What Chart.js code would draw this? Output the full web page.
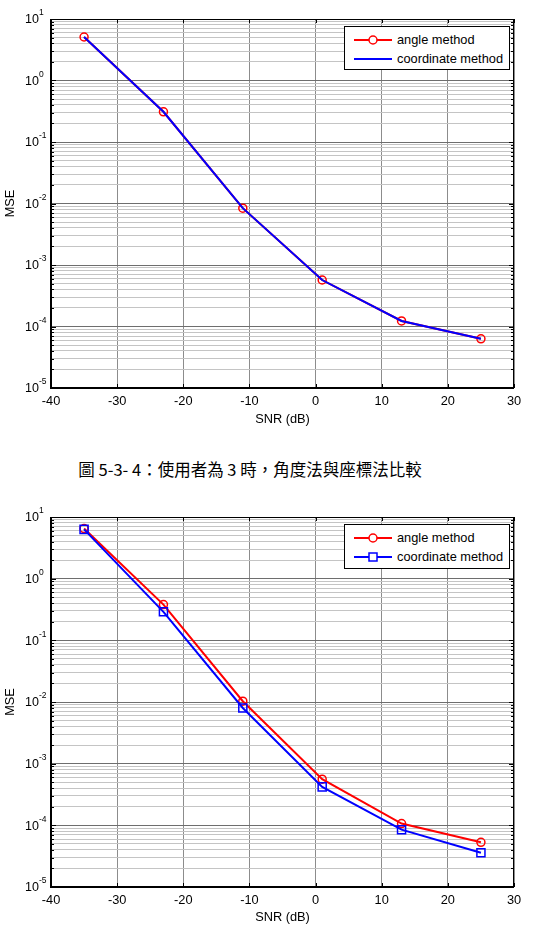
<!DOCTYPE html>
<html>
<head>
<meta charset="utf-8">
<script src="https://cdn.jsdelivr.net/npm/chart.js@4.4.0/dist/chart.umd.min.js"></script>
<style>
body { margin:0; width:543px; height:926px; overflow:hidden; background:#fff; position:relative; font-family:"Liberation Sans", Arial, sans-serif; }
.wrap { position:absolute; left:0; width:543px; height:430px; }
.legend { position:absolute; left:344px; width:164px; background:#fff; border:1px solid #000; font-size:12.8px; color:#000; }
.legend .row { position:absolute; left:0; height:16px; width:164px; }
.legend .row svg { position:absolute; left:0; top:0; }
.legend .row span { position:absolute; left:52px; top:0; line-height:16px; white-space:nowrap; }
.caption { position:absolute; left:0; width:500px; top:458px; text-align:center; font-family:"Noto Sans CJK TC", sans-serif; font-size:16.5px; line-height:22px; color:#000; }
</style>
</head>
<body>
<div class="wrap" style="top:0"><canvas id="chart1"></canvas></div>
<div class="legend" id="legend1" style="top:26px;height:42px"></div>
<div class="caption">圖 5-3- 4：使用者為 3 時，角度法與座標法比較</div>
<div class="wrap" style="top:498px"><canvas id="chart2"></canvas></div>
<div class="legend" id="legend2" style="top:524px;height:43px"></div>
<script>
// SNR points (dB)
const snr = [-35, -23, -11, 1, 13, 25];

// first figure: both methods give the same MSE
const angleMse1 = [5.1, 0.31, 0.0084, 0.00057, 0.000123, 0.000063];
const coordMse1 = [5.1, 0.31, 0.0084, 0.00057, 0.000123, 0.000063];

// second figure
const angleMse2 = [6.5, 0.38, 0.0103, 0.00056, 0.000107, 0.000053];
const coordMse2 = [6.3, 0.29, 0.0080, 0.00042, 0.000085, 0.000036];

const seriesNames = ['angle method', 'coordinate method'];
const xTicks = [-40, -30, -20, -10, 0, 10, 20, 30];
const yDecades = [-5, -4, -3, -2, -1, 0, 1];
const yMinor = [2, 3, 4, 5, 6, 7, 8, 9];

const axisFont = { family: '"Liberation Sans", Arial, sans-serif', size: 12.8 };

function isMajor(v) {
    const l = Math.log10(v);
    return Math.abs(l - Math.round(l)) < 1e-9;
}

function logTicks() {
    const t = [];
    yDecades.forEach(e => {
        t.push(Math.pow(10, e));
        if (e < yDecades[yDecades.length - 1]) {
            yMinor.forEach(m => t.push(m * Math.pow(10, e)));
        }
    });
    return t.map(v => ({ value: v }));
}

const frame = {
    id: 'frame',
    afterDraw(chart) {
        const { ctx, chartArea: a, scales: { x, y } } = chart;
        ctx.save();
        ctx.strokeStyle = '#000';
        ctx.lineWidth = 1;
        ctx.beginPath();
        y.ticks.forEach(t => {
            const py = Math.round(y.getPixelForValue(t.value)) + 0.5;
            const len = isMajor(t.value) ? 5 : 3;
            ctx.moveTo(a.left, py); ctx.lineTo(a.left + len, py);
            ctx.moveTo(a.right, py); ctx.lineTo(a.right - len, py);
        });
        x.ticks.forEach(t => {
            const px = Math.round(x.getPixelForValue(t.value)) + 0.5;
            ctx.moveTo(px, a.bottom); ctx.lineTo(px, a.bottom - 4);
            ctx.moveTo(px, a.top); ctx.lineTo(px, a.top + 4);
        });
        ctx.stroke();
        ctx.strokeRect(a.left + 0.5, a.top + 0.5, a.width - 1, a.height - 1);
        ctx.lineWidth = 2;
        ctx.beginPath();
        ctx.moveTo(a.left, a.top); ctx.lineTo(a.left, a.bottom); ctx.lineTo(a.right, a.bottom);
        ctx.stroke();

        // y tick labels as 10^n
        ctx.fillStyle = '#000';
        ctx.textBaseline = 'middle';
        ctx.textAlign = 'left';
        yDecades.forEach(e => {
            const py = y.getPixelForValue(Math.pow(10, e));
            ctx.font = '12.5px "Liberation Sans", Arial, sans-serif';
            ctx.fillText('10', 25, py + 1);
            ctx.font = '8.5px "Liberation Sans", Arial, sans-serif';
            ctx.fillText(String(e), 39, py - 6);
        });
        ctx.restore();
    }
};

function makeChart(id, datasets, xHeight) {
    return new Chart(document.getElementById(id), {
        type: 'line',
        data: {
            datasets: datasets.map(d => ({
                label: d.label,
                data: snr.map((s, i) => ({ x: s, y: d.values[i] })),
                borderColor: d.color,
                borderWidth: 2,
                pointStyle: d.pointStyle,
                pointRadius: d.pointRadius,
                pointBorderWidth: 1.5,
                pointBorderColor: d.color,
                pointBackgroundColor: 'rgba(0,0,0,0)',
                tension: 0,
                order: d.order
            }))
        },
        options: {
            responsive: false,
            animation: false,
            layout: { padding: { top: 19, right: 29, left: 0, bottom: 0 } },
            plugins: { legend: { display: false }, tooltip: { enabled: false } },
            scales: {
                x: {
                    type: 'linear',
                    min: -40,
                    max: 30,
                    afterBuildTicks: s => { s.ticks = xTicks.map(v => ({ value: v })); },
                    afterFit: s => { s.height = xHeight; },
                    grid: { color: '#8c8c8c', drawTicks: false },
                    border: { display: false },
                    ticks: { color: '#000', padding: 6, font: axisFont },
                    title: { display: true, text: 'SNR (dB)', color: '#000', padding: { top: 0, bottom: 3 }, font: axisFont }
                },
                y: {
                    type: 'logarithmic',
                    min: 1e-5,
                    max: 10,
                    afterBuildTicks: s => { s.ticks = logTicks(); },
                    afterFit: s => { s.width = 51; },
                    grid: {
                        color: c => (c.tick && isMajor(c.tick.value)) ? '#6e6e6e' : '#c4c4c4',
                        drawTicks: false
                    },
                    border: { display: false },
                    ticks: { display: false },
                    title: { display: true, text: 'MSE', color: '#000', padding: { top: 3, bottom: 0 }, font: axisFont }
                }
            }
        },
        plugins: [frame]
    });
}

function buildLegend(el, chart) {
    chart.data.datasets.slice().sort((a, b) => seriesNames.indexOf(a.label) - seriesNames.indexOf(b.label)).forEach((ds, i) => {
        const row = document.createElement('div');
        row.className = 'row';
        row.style.top = (5 + i * 19) + 'px';
        let marker = '';
        if (ds.pointRadius > 0 && ds.pointStyle === 'circle') {
            marker = `<circle cx="28" cy="8" r="4" fill="#fff" stroke="${ds.borderColor}" stroke-width="1.5"/>`;
        } else if (ds.pointRadius > 0 && ds.pointStyle === 'rect') {
            marker = `<rect x="24" y="4" width="8" height="8" fill="#fff" stroke="${ds.borderColor}" stroke-width="1.5"/>`;
        }
        row.innerHTML = `<svg width="50" height="16"><line x1="9" y1="8" x2="47" y2="8" stroke="${ds.borderColor}" stroke-width="2"/>${marker}</svg><span>${ds.label}</span>`;
        el.appendChild(row);
    });
}

const c1 = document.getElementById('chart1');
c1.width = 543; c1.height = 430;
const c2 = document.getElementById('chart2');
c2.width = 543; c2.height = 430;

const chart1 = makeChart('chart1', [
    { label: seriesNames[0], values: angleMse1, color: '#ff0000', pointStyle: 'circle', pointRadius: 4, order: 2 },
    { label: seriesNames[1], values: coordMse1, color: '#0000ff', pointStyle: 'circle', pointRadius: 0, order: 1 }
], 42);

const chart2 = makeChart('chart2', [
    { label: seriesNames[0], values: angleMse2, color: '#ff0000', pointStyle: 'circle', pointRadius: 4, order: 2 },
    { label: seriesNames[1], values: coordMse2, color: '#0000ff', pointStyle: 'rect', pointRadius: 5.7, order: 1 }
], 41);

buildLegend(document.getElementById('legend1'), chart1);
buildLegend(document.getElementById('legend2'), chart2);
</script>
</body>
</html>
